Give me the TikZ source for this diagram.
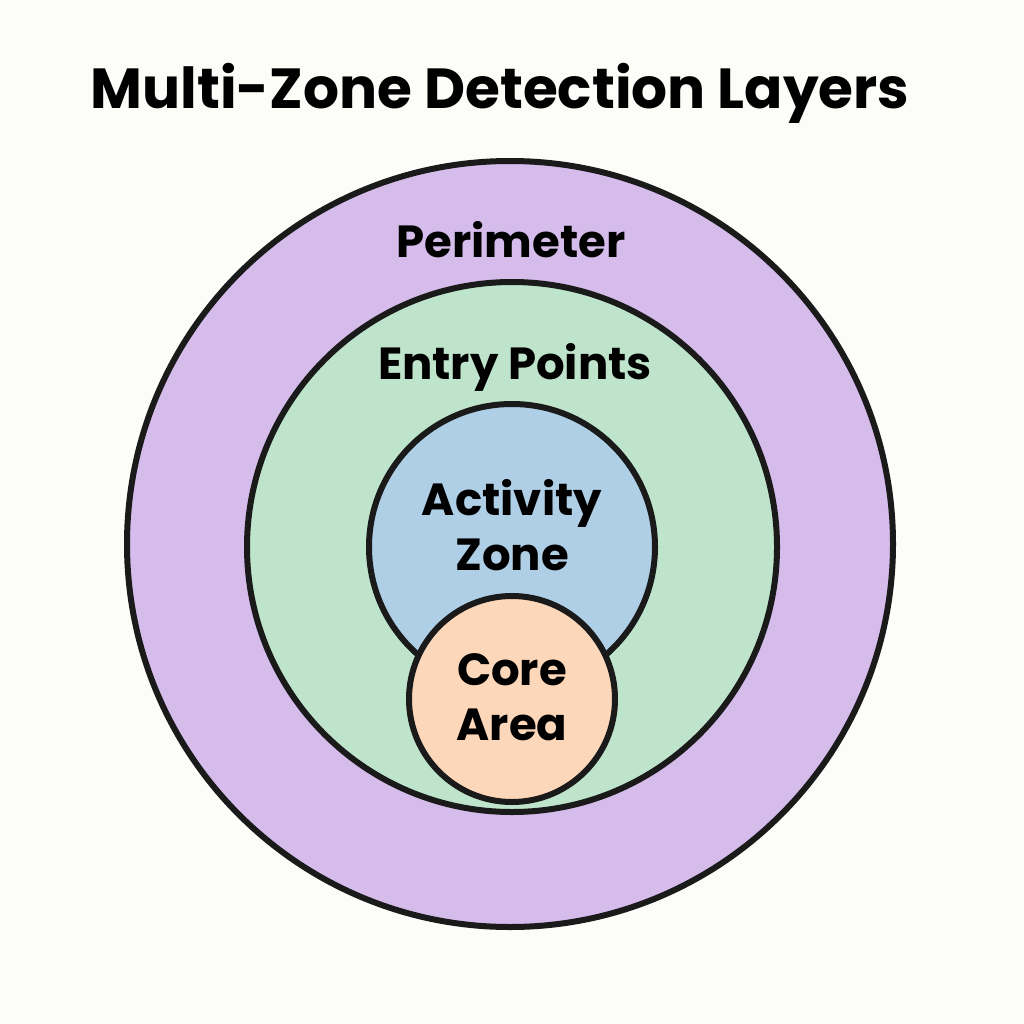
\documentclass[tikz,border=0pt]{standalone}
\usepackage{fontspec}
\setmainfont{Poppins}[BoldFont={* Bold},UprightFont={* Regular}]
\definecolor{bgc}{HTML}{FCFCF8}
\definecolor{purp}{HTML}{D5BCEB}
\definecolor{grn}{HTML}{BEE5CB}
\definecolor{blu}{HTML}{AECFE6}
\definecolor{org}{HTML}{FDD7B9}
\definecolor{ink}{HTML}{1A1A1A}
\begin{document}
\begin{tikzpicture}[x=1pt,y=-1pt,
  zone/.style={draw=ink,line width=6pt},
  lbl/.style={font=\bfseries\fontsize{45}{55}\selectfont,text=black,align=center,inner sep=0pt}]
\fill[bgc] (0,0) rectangle (1024,1024);
\useasboundingbox (0,0) rectangle (1024,1024);
\node[font=\bfseries\fontsize{56.5}{60}\selectfont,inner sep=0pt] (title) at (500,93) {Multi-Zone Detection Layers};
\path[zone,fill=purp] (510,544) circle[radius=383];
\path[zone,fill=grn] (512,547) circle[radius=265];
\path[zone,fill=blu] (512,547) circle[radius=143];
\path[zone,fill=org] (512,699) circle[radius=103];
\node[lbl] (per) at (511,240) {Perimeter};
\node[lbl] (ent) at (515,367) {Entry Points};
\node[lbl] (act) at (512,525) {Activity\\Zone};
\node[lbl] (core) at (512,697) {Core\\Area};
\end{tikzpicture}
\end{document}
